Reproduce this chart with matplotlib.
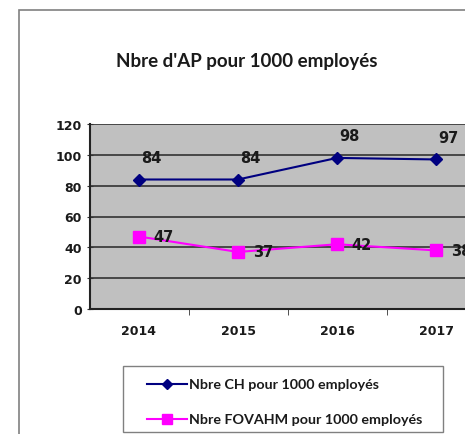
import matplotlib
matplotlib.use("Agg")
import matplotlib.pyplot as plt
from matplotlib.patches import Rectangle
from matplotlib.lines import Line2D

years = ["2014", "2015", "2016", "2017"]
ch_values = [84, 84, 98, 97]
fovahm_values = [47, 37, 42, 38]
ch_label = "Nbre CH pour 1000 employés"
fovahm_label = "Nbre FOVAHM pour 1000 employés"
title = "Nbre d'AP pour 1000 employés"

W, H = 465, 435
fig = plt.figure(figsize=(W / 100, H / 100), dpi=100)

def fx(px):
    return px / W

def fy(py):
    return 1 - py / H

# outer chart border (cut off at the right and bottom of the picture)
fig.patches.append(Rectangle((fx(19), -0.1), 1.2, fy(11) + 0.1,
                             transform=fig.transFigure, fill=False,
                             edgecolor="#808080", linewidth=1.2))

# plot area runs past the right edge like in the screenshot
left, right, top, bottom = 89.5, 485.5, 125, 310
ax = fig.add_axes([fx(left), fy(bottom), (right - left) / W, (bottom - top) / H])
ax.set_facecolor("#C0C0C0")

x = list(range(len(years)))
ax.plot(x, ch_values, color="#000080", marker="D", markersize=6, linewidth=1.5)
ax.plot(x, fovahm_values, color="#FF00FF", marker="s", markersize=8, linewidth=1.5)

for i, v in enumerate(ch_values):
    ax.annotate(str(v), (i, v), xytext=(9, 16), textcoords="offset points",
                ha="center", va="center", fontsize=10.5, fontweight="bold",
                color="#1a1a1a", annotation_clip=False)
for i, v in enumerate(fovahm_values):
    ax.annotate(str(v), (i, v), xytext=(18, 0), textcoords="offset points",
                ha="center", va="center", fontsize=10.5, fontweight="bold",
                color="#1a1a1a", annotation_clip=False)

ax.set_xlim(-0.5, len(years) - 0.5)
ax.set_ylim(0, 120)
ax.set_yticks(range(0, 121, 20))
ax.yaxis.grid(True, color="#333333", linewidth=1.2)
ax.set_axisbelow(True)

ax.set_xticks(x)
ax.set_xticklabels(years)
ax.set_xticks([i + 0.5 for i in range(len(years) - 1)], minor=True)
ax.tick_params(axis="x", which="major", length=0, pad=11)
ax.tick_params(axis="x", which="minor", length=4, direction="out", color="#333333")
ax.tick_params(axis="y", length=4, direction="inout", color="#333333")
for lab in ax.get_xticklabels() + ax.get_yticklabels():
    lab.set_fontweight("bold")
    lab.set_fontsize(9)
    lab.set_color("#1a1a1a")

for s in ["top", "right"]:
    ax.spines[s].set_visible(False)
ax.spines["left"].set_color("#222222")
ax.spines["bottom"].set_color("#222222")
ax.spines["left"].set_linewidth(1.5)
ax.spines["bottom"].set_linewidth(1.5)

fig.text(fx(247), fy(61), title, ha="center", va="center",
         fontsize=13.5, fontweight="bold", family="Lato", color="#1a1a1a")

# legend box drawn by hand to sit where the original one is
fig.patches.append(Rectangle((fx(123), fy(433)), (443 - 123) / W, (433 - 367) / H,
                             transform=fig.transFigure, facecolor="white",
                             edgecolor="#808080", linewidth=1.0))
legend_rows = [(ch_label, "#000080", "D", 5, 385),
               (fovahm_label, "#FF00FF", "s", 7, 420)]
for label, color, marker, msize, ypix in legend_rows:
    fig.lines.append(Line2D([fx(147), fx(187)], [fy(ypix), fy(ypix)],
                            transform=fig.transFigure, color=color, linewidth=1.5))
    fig.lines.append(Line2D([fx(167)], [fy(ypix)], transform=fig.transFigure,
                            color=color, marker=marker, markersize=msize))
    fig.text(fx(189), fy(ypix), label, ha="left", va="center", fontsize=10.3,
             fontweight="bold", family="Lato", color="#1a1a1a")

fig.savefig("out.png", dpi=100)
